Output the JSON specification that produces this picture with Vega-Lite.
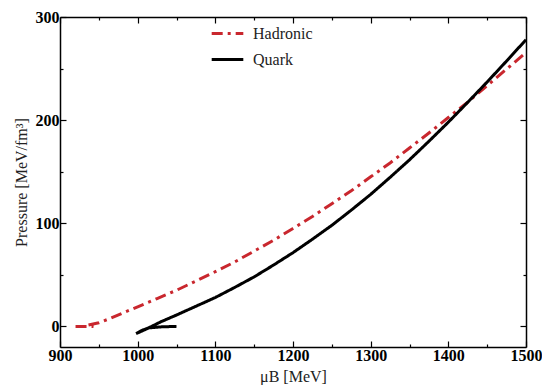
{
  "$schema": "https://vega.github.io/schema/vega-lite/v6.json",
  "width": 466,
  "height": 330,
  "autosize": "none",
  "padding": {"left": 60, "top": 17, "right": 16, "bottom": 38},
  "background": "white",
  "config": {"view": {"stroke": null}, "font": "Liberation Serif"},
  "data": {"values": [
    {"series": "Hadronic", "ord": 1, "mu": 920, "P": 0},
    {"series": "Hadronic", "ord": 2, "mu": 943, "P": 0},
    {"series": "Hadronic", "ord": 3, "mu": 936, "P": 1.2},
    {"series": "Hadronic", "ord": 4, "mu": 950, "P": 3.5},
    {"series": "Hadronic", "ord": 5, "mu": 965, "P": 7.8},
    {"series": "Hadronic", "ord": 6, "mu": 981, "P": 13},
    {"series": "Hadronic", "ord": 7, "mu": 1000, "P": 19},
    {"series": "Hadronic", "ord": 8, "mu": 1025, "P": 27},
    {"series": "Hadronic", "ord": 9, "mu": 1050, "P": 35},
    {"series": "Hadronic", "ord": 10, "mu": 1075, "P": 44},
    {"series": "Hadronic", "ord": 11, "mu": 1100, "P": 53},
    {"series": "Hadronic", "ord": 12, "mu": 1125, "P": 62.5},
    {"series": "Hadronic", "ord": 13, "mu": 1150, "P": 73},
    {"series": "Hadronic", "ord": 14, "mu": 1175, "P": 83.5},
    {"series": "Hadronic", "ord": 15, "mu": 1200, "P": 95},
    {"series": "Hadronic", "ord": 16, "mu": 1225, "P": 106.5},
    {"series": "Hadronic", "ord": 17, "mu": 1250, "P": 119},
    {"series": "Hadronic", "ord": 18, "mu": 1275, "P": 131.5},
    {"series": "Hadronic", "ord": 19, "mu": 1300, "P": 145},
    {"series": "Hadronic", "ord": 20, "mu": 1325, "P": 158.5},
    {"series": "Hadronic", "ord": 21, "mu": 1350, "P": 173},
    {"series": "Hadronic", "ord": 22, "mu": 1375, "P": 187.5},
    {"series": "Hadronic", "ord": 23, "mu": 1400, "P": 202.5},
    {"series": "Hadronic", "ord": 24, "mu": 1425, "P": 217.5},
    {"series": "Hadronic", "ord": 25, "mu": 1450, "P": 233.5},
    {"series": "Hadronic", "ord": 26, "mu": 1475, "P": 249.5},
    {"series": "Hadronic", "ord": 27, "mu": 1500, "P": 265.5},
    {"series": "Quark", "ord": 1, "mu": 1050, "P": 0},
    {"series": "Quark", "ord": 2, "mu": 1030, "P": -0.5},
    {"series": "Quark", "ord": 3, "mu": 1014, "P": -1.5},
    {"series": "Quark", "ord": 4, "mu": 1005, "P": -4},
    {"series": "Quark", "ord": 5, "mu": 998, "P": -7},
    {"series": "Quark", "ord": 6, "mu": 1010, "P": -3},
    {"series": "Quark", "ord": 7, "mu": 1030, "P": 4.5},
    {"series": "Quark", "ord": 8, "mu": 1050, "P": 11},
    {"series": "Quark", "ord": 9, "mu": 1075, "P": 19.5},
    {"series": "Quark", "ord": 10, "mu": 1100, "P": 28},
    {"series": "Quark", "ord": 11, "mu": 1125, "P": 37.8},
    {"series": "Quark", "ord": 12, "mu": 1150, "P": 48},
    {"series": "Quark", "ord": 13, "mu": 1175, "P": 59.5},
    {"series": "Quark", "ord": 14, "mu": 1200, "P": 71.5},
    {"series": "Quark", "ord": 15, "mu": 1225, "P": 84.5},
    {"series": "Quark", "ord": 16, "mu": 1250, "P": 98},
    {"series": "Quark", "ord": 17, "mu": 1275, "P": 112.7},
    {"series": "Quark", "ord": 18, "mu": 1300, "P": 128},
    {"series": "Quark", "ord": 19, "mu": 1325, "P": 144.5},
    {"series": "Quark", "ord": 20, "mu": 1350, "P": 161.5},
    {"series": "Quark", "ord": 21, "mu": 1375, "P": 179.5},
    {"series": "Quark", "ord": 22, "mu": 1400, "P": 198},
    {"series": "Quark", "ord": 23, "mu": 1425, "P": 217.3},
    {"series": "Quark", "ord": 24, "mu": 1450, "P": 237},
    {"series": "Quark", "ord": 25, "mu": 1475, "P": 257.3},
    {"series": "Quark", "ord": 26, "mu": 1500, "P": 278}
  ]},
  "layer": [
    {
      "mark": {"type": "line", "strokeWidth": 3, "clip": true},
      "encoding": {
        "x": {"field": "mu", "type": "quantitative",
          "scale": {"domain": [900, 1500], "nice": false, "zero": false},
          "axis": {"orient": "bottom", "values": [900,950,1000,1050,1100,1150,1200,1250,1300,1350,1400,1450,1500],
            "labelExpr": "datum.value % 100 === 0 ? '' + datum.value : ''",
            "tickSize": {"condition": {"test": "datum.value % 100 === 0", "value": -6}, "value": -3},
            "grid": false, "domainColor": "black", "domainWidth": 1.5, "tickColor": "black", "tickWidth": 1.2,
            "labelFont": "Liberation Serif", "labelFontSize": 16, "labelFontWeight": "bold", "labelColor": "black",
            "labelPadding": 6, "labelFlush": false, "labelOverlap": false,
            "title": "μB [MeV]", "titleFont": "Liberation Serif", "titleFontSize": 16, "titleFontWeight": "normal", "titleColor": "#222", "titlePadding": 2}},
        "y": {"field": "P", "type": "quantitative",
          "scale": {"domain": [-20, 300], "nice": false, "zero": false},
          "axis": {"orient": "left", "values": [0,50,100,150,200,250,300],
            "labelExpr": "datum.value % 100 === 0 ? '' + datum.value : ''",
            "tickSize": {"condition": {"test": "datum.value % 100 === 0", "value": -6}, "value": -3},
            "grid": false, "domainColor": "black", "domainWidth": 1.5, "tickColor": "black", "tickWidth": 1.2,
            "labelFont": "Liberation Serif", "labelFontSize": 16, "labelFontWeight": "bold", "labelColor": "black",
            "labelPadding": 7, "labelOverlap": false,
            "title": "Pressure [MeV/fm³]", "titleFont": "Liberation Serif", "titleFontSize": 16, "titleFontWeight": "normal", "titleColor": "#222", "titlePadding": 6}},
        "order": {"field": "ord", "type": "quantitative"},
        "color": {"field": "series", "type": "nominal",
          "scale": {"domain": ["Hadronic", "Quark"], "range": ["#c9272e", "black"]},
          "legend": {"orient": "none", "legendX": 150, "legendY": -1, "title": null, "symbolType": "stroke",
            "symbolSize": 1000, "symbolStrokeWidth": 3, "labelFont": "Liberation Serif", "labelFontSize": 16,
            "labelColor": "#222", "rowPadding": -7, "labelOffset": 8}},
        "strokeDash": {"field": "series", "type": "nominal",
          "scale": {"domain": ["Hadronic", "Quark"], "range": [[11, 5, 3, 5], [1, 0]]},
          "legend": {"orient": "none", "legendX": 150, "legendY": -1, "title": null, "symbolType": "stroke",
            "symbolSize": 1000, "symbolStrokeWidth": 3, "labelFont": "Liberation Serif", "labelFontSize": 16,
            "labelColor": "#222", "rowPadding": -7, "labelOffset": 8}}
      }
    },
    {
      "mark": {"type": "line", "opacity": 0},
      "encoding": {
        "x": {"field": "mu", "type": "quantitative",
          "axis": {"orient": "top", "values": [900,950,1000,1050,1100,1150,1200,1250,1300,1350,1400,1450,1500],
            "labels": false, "title": null,
            "tickSize": {"condition": {"test": "datum.value % 100 === 0", "value": -6}, "value": -3},
            "grid": false, "domainColor": "black", "domainWidth": 1.5, "tickColor": "black", "tickWidth": 1.2}},
        "y": {"field": "P", "type": "quantitative",
          "axis": {"orient": "right", "values": [0,50,100,150,200,250,300],
            "labels": false, "title": null,
            "tickSize": {"condition": {"test": "datum.value % 100 === 0", "value": -6}, "value": -3},
            "grid": false, "domainColor": "black", "domainWidth": 1.5, "tickColor": "black", "tickWidth": 1.2}},
        "detail": {"field": "series", "type": "nominal"},
        "order": {"field": "ord", "type": "quantitative"}
      }
    }
  ],
  "resolve": {"axis": {"x": "independent", "y": "independent"}}
}
